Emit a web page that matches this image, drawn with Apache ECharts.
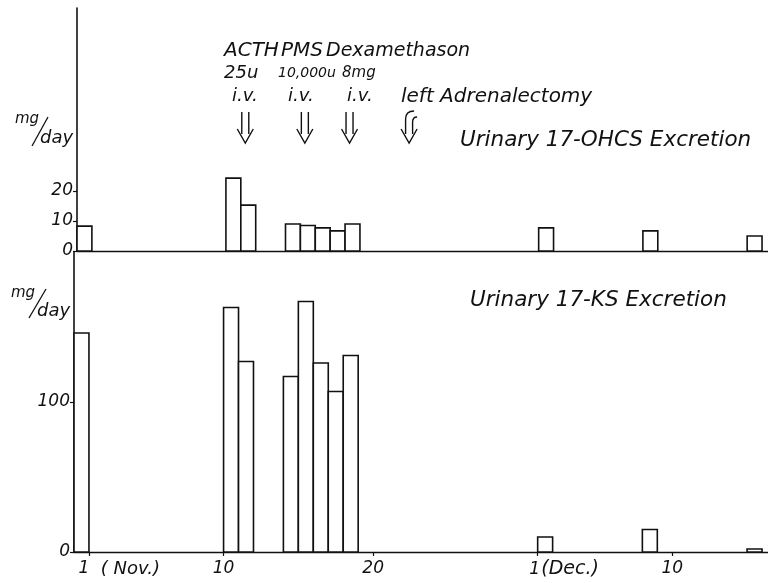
<!DOCTYPE html>
<html><head><meta charset="utf-8">
<script src="https://cdn.jsdelivr.net/npm/echarts@6/dist/echarts.min.js"></script>
<style>html,body{margin:0;padding:0;background:#fff}#c{width:768px;height:583px}</style>
</head><body><div id="c"></div>
<script>
// Day index: Nov 1 = 1, Dec 1 = 31. Each bar covers the day interval [day-1, day].
const sampleDays = [1, 11, 12, 15, 16, 17, 18, 19, 32, 39, 46];
const ohcsValues = [8.3, 24.3, 15.3, 9, 8.5, 7.7, 6.7, 9, 7.7, 6.7, 5];
const ksValues   = [146, 163, 127, 117, 167, 126, 107, 131, 10, 15, 2];
const xTickDays   = [1, 10, 20, 31, 40];
const xTickLabels = ['1', '10', '20', '1', '10'];
const xTickSuffix = ['( Nov.)', '', '', '(Dec.)', ''];
const ohcsTicks = [0, 10, 20];
const ksTicks = [0, 100];
// treatment events (day positions of arrows)
const eventDays = [11.3, 15.3, 18.3, 22.3];

const FONT = '"DejaVu Sans", sans-serif';
const INK = '#111';
const W = 300;

const chart = echarts.init(document.getElementById('c'), null, {renderer: 'canvas'});

function renderBar(params, api) {
  const d = api.value(0), v = api.value(1);
  const p1 = api.coord([d - 1, v]);
  const p2 = api.coord([d, 0]);
  return {
    type: 'rect',
    shape: {x: p1[0], y: p1[1], width: p2[0] - p1[0], height: p2[1] - p1[1]},
    style: {fill: '#fff', stroke: INK, lineWidth: 1.6}
  };
}

const labelBase = {fontFamily: FONT, fontStyle: 'italic', fontWeight: W, fontSize: 17, color: INK};

const option = {
  animation: false,
  backgroundColor: '#fff',
  grid: [
    {left: 77, right: 0, top: 8, height: 243},
    {left: 74, right: 0, top: 252, height: 300}
  ],
  xAxis: [
    {type: 'value', gridIndex: 0, min: 0, max: 46.4,
     axisLine: {show: true, onZero: false, lineStyle: {color: INK, width: 1.4}},
     axisTick: {show: false}, axisLabel: {show: false}, splitLine: {show: false}},
    {type: 'value', gridIndex: 1, min: 0, max: 46.4,
     axisLine: {show: true, onZero: false, lineStyle: {color: INK, width: 1.4}},
     axisTick: {show: true, customValues: xTickDays, length: 4, lineStyle: {color: INK, width: 1.2}},
     axisLabel: {
       customValues: xTickDays, margin: 8,
       formatter: function (v) {
         const i = xTickDays.indexOf(v);
         if (i < 0) return '';
         const s = xTickSuffix[i];
         if (!s) return '{n|' + xTickLabels[i] + '}';
         return i === 0 ? '{p1|}{n|' + xTickLabels[i] + '}{s1|' + s + '}'
                        : '{p2|}{n|' + xTickLabels[i] + '}{s2|' + s + '}';
       },
       rich: {
         n: Object.assign({}, labelBase),
         p1: {width: 64},
         s1: Object.assign({}, labelBase, {width: 66, align: 'left', padding: [0, 0, 0, 8], fontSize: 18}),
         p2: {width: 54},
         s2: Object.assign({}, labelBase, {width: 60, align: 'left', fontSize: 19})
       }
     },
     splitLine: {show: false}}
  ],
  yAxis: [
    {type: 'value', gridIndex: 0, min: 0, max: 81,
     axisLine: {show: true, lineStyle: {color: INK, width: 1.6}},
     axisTick: {show: true, customValues: ohcsTicks, length: 4, lineStyle: {color: INK, width: 1.2}},
     axisLabel: Object.assign({customValues: ohcsTicks, margin: 4}, labelBase),
     splitLine: {show: false}},
    {type: 'value', gridIndex: 1, min: 0, max: 200,
     axisLine: {show: true, lineStyle: {color: INK, width: 1.6}},
     axisTick: {show: true, customValues: ksTicks, length: 4, lineStyle: {color: INK, width: 1.2}},
     axisLabel: Object.assign({customValues: ksTicks, margin: 4}, labelBase),
     splitLine: {show: false}}
  ],
  series: [
    {name: 'Urinary 17-OHCS Excretion', type: 'custom', xAxisIndex: 0, yAxisIndex: 0,
     renderItem: renderBar, data: sampleDays.map((d, i) => [d, ohcsValues[i]])},
    {name: 'Urinary 17-KS Excretion', type: 'custom', xAxisIndex: 1, yAxisIndex: 1,
     renderItem: renderBar, data: sampleDays.map((d, i) => [d, ksValues[i]])}
  ]
};
chart.setOption(option);

function txt(x, y, s, size) {
  return {type: 'text', x: x, y: y,
    style: {text: s, fontFamily: FONT, fontStyle: 'italic', fontWeight: W, fontSize: size || 19, fill: INK,
            verticalAlign: 'middle'}};
}
const LS = {stroke: INK, lineWidth: 1.4, fill: null};
function arrow(x) {
  return {type: 'group', children: [
    {type: 'line', shape: {x1: x - 3.5, y1: 112, x2: x - 3.5, y2: 134}, style: LS},
    {type: 'line', shape: {x1: x + 3.5, y1: 112, x2: x + 3.5, y2: 134}, style: LS},
    {type: 'polyline', shape: {points: [[x - 8, 129], [x, 143], [x + 8, 129]]}, style: LS}
  ]};
}
function hookArrow(x) {
  return {type: 'group', children: [
    {type: 'line', shape: {x1: x - 3.5, y1: 119, x2: x - 3.5, y2: 134}, style: LS},
    {type: 'bezierCurve', shape: {x1: x - 3.5, y1: 119, cpx1: x - 3.5, cpy1: 111, x2: x + 5, y2: 111}, style: LS},
    {type: 'line', shape: {x1: x + 3.5, y1: 122, x2: x + 3.5, y2: 134}, style: LS},
    {type: 'bezierCurve', shape: {x1: x + 3.5, y1: 122, cpx1: x + 3.5, cpy1: 117, x2: x + 8, y2: 117}, style: LS},
    {type: 'polyline', shape: {points: [[x - 8, 129], [x, 143], [x + 8, 129]]}, style: LS}
  ]};
}
function slash(x1, y1, x2, y2) {
  return {type: 'line', shape: {x1: x1, y1: y1, x2: x2, y2: y2}, style: {stroke: INK, lineWidth: 1.3}};
}

const ex = eventDays.map(d => chart.convertToPixel({xAxisIndex: 0}, d));

chart.setOption({graphic: [
  txt(224, 51, 'ACTH', 20), txt(281, 51, 'PMS', 20), txt(326, 51, 'Dexamethason', 19),
  txt(224, 73, '25u', 18), txt(278, 73, '10,000u', 14), txt(342, 73, '8mg', 15),
  txt(232, 96, 'i.v.', 18), txt(288, 96, 'i.v.', 18), txt(347, 96, 'i.v.', 18),
  txt(401, 97, 'left Adrenalectomy', 20),
  arrow(ex[0]), arrow(ex[1]), arrow(ex[2]), hookArrow(ex[3]),
  txt(460, 140, 'Urinary 17-OHCS Excretion', 21.5),
  txt(470, 300, 'Urinary 17-KS Excretion', 21.5),
  txt(15, 119, 'mg', 15), slash(32, 146, 48, 117), txt(40, 138, 'day', 18),
  txt(11, 293, 'mg', 15), slash(29, 318, 46, 289), txt(37, 311, 'day', 18)
]});
</script></body></html>
